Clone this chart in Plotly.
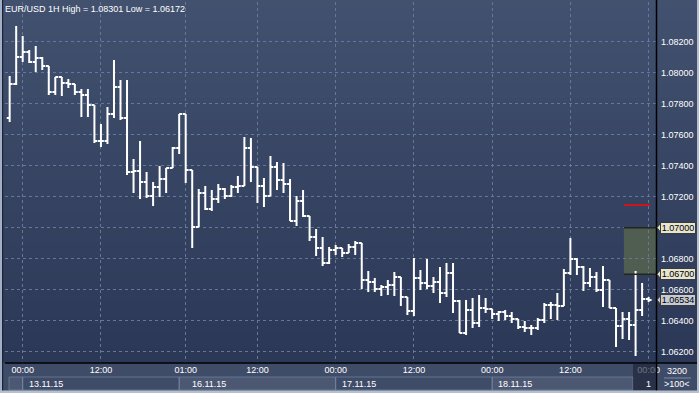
import plotly.graph_objects as go

# ---------------- data ----------------
bar_index = list(range(-2, 97))  # hourly bars, 0 = 13.11.15 00:00

open_ = [1.07708, 1.07927, 1.08101, 1.08134, 1.08069, 1.08095, 1.08043, 1.07876, 1.07972, 1.07934,
         1.07927, 1.07876, 1.07856, 1.07792, 1.07559, 1.07559, 1.07734, 1.07908, 1.07708, 1.07359,
         1.07366, 1.07295, 1.07205, 1.07263, 1.07314, 1.07385, 1.07514, 1.07734, 1.07372, 1.07005,
         1.07224, 1.07121, 1.07185, 1.07250, 1.07205, 1.07263, 1.07269, 1.07514, 1.07392, 1.07269,
         1.07205, 1.07392, 1.07308, 1.07282, 1.07043, 1.07172, 1.07076, 1.06940, 1.06869, 1.06772,
         1.06856, 1.06869, 1.06837, 1.06876, 1.06901, 1.06663, 1.06650, 1.06605, 1.06617, 1.06630,
         1.06682, 1.06553, 1.06463, 1.06675, 1.06643, 1.06624, 1.06650, 1.06579, 1.06708, 1.06527,
         1.06321, 1.06469, 1.06385, 1.06482, 1.06476, 1.06443, 1.06456, 1.06430, 1.06411, 1.06359,
         1.06353, 1.06353, 1.06405, 1.06501, 1.06501, 1.06495, 1.06708, 1.06798, 1.06746, 1.06643,
         1.06682, 1.06598, 1.06663, 1.06482, 1.06366, 1.06411, 1.06372, 1.06469, 1.06540]

high = [1.07979, 1.08301, 1.08237, 1.08146, 1.08172, 1.08101, 1.08043, 1.07972, 1.07972, 1.07959,
        1.07927, 1.07895, 1.07895, 1.07792, 1.07669, 1.07779, 1.08082, 1.07953, 1.07953, 1.07443,
        1.07559, 1.07359, 1.07295, 1.07398, 1.07385, 1.07521, 1.07734, 1.07734, 1.07372, 1.07250,
        1.07269, 1.07243, 1.07282, 1.07256, 1.07276, 1.07334, 1.07585, 1.07579, 1.07392, 1.07321,
        1.07463, 1.07424, 1.07417, 1.07314, 1.07205, 1.07243, 1.07076, 1.06992, 1.06940, 1.06876,
        1.06888, 1.06869, 1.06895, 1.06914, 1.06901, 1.06721, 1.06675, 1.06630, 1.06663, 1.06714,
        1.06682, 1.06553, 1.06805, 1.06727, 1.06798, 1.06682, 1.06746, 1.06772, 1.06772, 1.06534,
        1.06534, 1.06546, 1.06566, 1.06546, 1.06476, 1.06463, 1.06469, 1.06456, 1.06411, 1.06398,
        1.06372, 1.06417, 1.06514, 1.06521, 1.06579, 1.06734, 1.06934, 1.06805, 1.06753, 1.06740,
        1.06714, 1.06753, 1.06663, 1.06482, 1.06456, 1.06456, 1.06721, 1.06643, 1.06553]

low = [1.07682, 1.07921, 1.08069, 1.08063, 1.08005, 1.08017, 1.07856, 1.07856, 1.07850, 1.07901,
       1.07856, 1.07714, 1.07714, 1.07546, 1.07521, 1.07540, 1.07708, 1.07695, 1.07340, 1.07224,
       1.07185, 1.07192, 1.07140, 1.07198, 1.07224, 1.07385, 1.07475, 1.07288, 1.06869, 1.07005,
       1.07114, 1.07108, 1.07159, 1.07185, 1.07198, 1.07224, 1.07269, 1.07295, 1.07159, 1.07134,
       1.07205, 1.07243, 1.07224, 1.07043, 1.07011, 1.07069, 1.06914, 1.06817, 1.06753, 1.06766,
       1.06824, 1.06811, 1.06837, 1.06824, 1.06605, 1.06585, 1.06585, 1.06559, 1.06566, 1.06559,
       1.06495, 1.06437, 1.06430, 1.06598, 1.06605, 1.06579, 1.06514, 1.06553, 1.06450, 1.06321,
       1.06308, 1.06353, 1.06359, 1.06450, 1.06411, 1.06398, 1.06405, 1.06385, 1.06347, 1.06327,
       1.06308, 1.06340, 1.06385, 1.06411, 1.06405, 1.06495, 1.06695, 1.06695, 1.06592, 1.06617,
       1.06585, 1.06488, 1.06482, 1.06230, 1.06282, 1.06276, 1.06172, 1.06430, 1.06521]

close = [1.07927, 1.08101, 1.08134, 1.08069, 1.08095, 1.08043, 1.07876, 1.07972, 1.07934, 1.07927,
         1.07876, 1.07856, 1.07792, 1.07559, 1.07559, 1.07734, 1.07908, 1.07708, 1.07359, 1.07366,
         1.07295, 1.07205, 1.07263, 1.07314, 1.07385, 1.07514, 1.07734, 1.07372, 1.07005, 1.07224,
         1.07121, 1.07185, 1.07250, 1.07205, 1.07263, 1.07269, 1.07514, 1.07392, 1.07269, 1.07205,
         1.07392, 1.07308, 1.07282, 1.07043, 1.07172, 1.07076, 1.06940, 1.06869, 1.06772, 1.06856,
         1.06869, 1.06837, 1.06876, 1.06901, 1.06663, 1.06650, 1.06605, 1.06617, 1.06630, 1.06682,
         1.06553, 1.06463, 1.06675, 1.06643, 1.06624, 1.06650, 1.06579, 1.06708, 1.06527, 1.06321,
         1.06469, 1.06385, 1.06482, 1.06476, 1.06443, 1.06456, 1.06430, 1.06411, 1.06359, 1.06353,
         1.06353, 1.06405, 1.06501, 1.06501, 1.06495, 1.06708, 1.06798, 1.06746, 1.06643, 1.06682,
         1.06598, 1.06663, 1.06482, 1.06366, 1.06411, 1.06372, 1.06469, 1.06540, 1.06534]

title_text = "EUR/USD 1H High = 1.08301 Low = 1.06172"
time_tick_index = [0, 12, 25, 36, 48, 60, 72, 84, 96]
time_tick_text = ["00:00", "12:00", "01:00", "12:00", "00:00", "12:00", "00:00", "12:00", "00:00"]
price_ticks = [1.062, 1.064, 1.066, 1.068, 1.070, 1.072, 1.074, 1.076, 1.078, 1.080, 1.082]
date_labels = ["13.11.15", "16.11.15", "17.11.15", "18.11.15"]
date_box_start = [0, 24, 48, 72]
date_label_index = [0, 25, 48, 72]
zone_high = 1.07000
zone_low = 1.06700
zone_start_index = 92.2
red_level = 1.07146
red_start_index, red_end_index = 92.2, 96.2
last_price = 1.06534
counter_text = "3200"
zoom_text = ">100<"

# ---------------- geometry / style ----------------
W, H = 699, 393
L, R, T, B = 5, 656, 2, 363
X_RANGE = [-2.715, 97.13]
Y_RANGE = [1.06127, 1.08456]
FONT = "Liberation Sans"


def fx(px):
    return (px - L) / (R - L)


def fy(py):
    return (B - py) / (B - T)


def ix(i):
    return (i - X_RANGE[0]) / (X_RANGE[1] - X_RANGE[0])


def pix_of_index(i):
    return L + ix(i) * (R - L)


shapes = []
# background gradient
n_bands = 48
top_c = (65, 81, 110)
bot_c = (43, 56, 87)
for k in range(n_bands):
    y0 = B * k / n_bands
    y1 = B * (k + 1) / n_bands + 0.5
    t = k / (n_bands - 1)
    c = tuple(round(top_c[j] + (bot_c[j] - top_c[j]) * t) for j in range(3))
    shapes.append(dict(type="rect", xref="paper", yref="paper", x0=fx(0), x1=fx(W),
                       y0=fy(y1), y1=fy(y0), line=dict(width=0),
                       fillcolor="rgb(%d,%d,%d)" % c, layer="below"))

# x-axis area
shapes.append(dict(type="rect", xref="paper", yref="paper", x0=fx(0), x1=fx(W),
                   y0=fy(H), y1=fy(B), line=dict(width=0), fillcolor="#3f4c68", layer="below"))

# date boxes
box_fills = ["rgba(255,255,255,0.0)", "rgba(255,255,255,0.07)",
             "rgba(255,255,255,0.0)", "rgba(255,255,255,0.07)"]
box_edges = [pix_of_index(s) for s in date_box_start] + [633]
shapes.append(dict(type="rect", xref="paper", yref="paper", x0=fx(9), x1=fx(box_edges[0]),
                   y0=fy(390), y1=fy(377), line=dict(width=1, color="rgba(130,145,175,0.55)"),
                   fillcolor="rgba(255,255,255,0.07)", layer="below"))
for k in range(len(date_labels)):
    shapes.append(dict(type="rect", xref="paper", yref="paper", x0=fx(box_edges[k]), x1=fx(box_edges[k + 1]),
                       y0=fy(390), y1=fy(377), line=dict(width=1, color="rgba(130,145,175,0.55)"),
                       fillcolor=box_fills[k], layer="below"))

# signal zone (green box) and red level
shapes.append(dict(type="rect", xref="x", yref="y", x0=zone_start_index, x1=X_RANGE[1],
                   y0=zone_low, y1=zone_high, line=dict(width=0),
                   fillcolor="rgba(82,96,80,0.92)", layer="below"))
for lvl in (zone_high, zone_low):
    shapes.append(dict(type="line", xref="x", yref="y", x0=zone_start_index, x1=X_RANGE[1],
                       y0=lvl, y1=lvl, line=dict(width=1.5, color="#20261f"), layer="above"))
shapes.append(dict(type="line", xref="x", yref="y", x0=red_start_index, x1=red_end_index,
                   y0=red_level, y1=red_level, line=dict(width=2, color="#d0141c"), layer="above"))

# frame lines
shapes.append(dict(type="line", xref="paper", yref="paper", x0=fx(L), x1=fx(W), y0=fy(B), y1=fy(B),
                   line=dict(width=1.5, color="#000000"), layer="above"))
shapes.append(dict(type="line", xref="paper", yref="paper", x0=fx(R + 0.5), x1=fx(R + 0.5), y0=fy(H), y1=fy(0),
                   line=dict(width=1.5, color="#000000"), layer="above"))
# scroll thumb overlay at right end of time axis
shapes.append(dict(type="rect", xref="paper", yref="paper", x0=fx(633), x1=fx(R), y0=fy(390), y1=fy(364),
                   line=dict(width=0), fillcolor="rgba(28,36,56,0.65)", layer="above"))
# counter box separator
shapes.append(dict(type="line", xref="paper", yref="paper", x0=fx(664), x1=fx(691), y0=fy(378), y1=fy(378),
                   line=dict(width=1, color="#7d8aa3"), layer="above"))
# outer borders
shapes.append(dict(type="rect", xref="paper", yref="paper", x0=fx(0), x1=fx(2), y0=fy(H), y1=fy(0),
                   line=dict(width=0), fillcolor="#a3afc4", layer="above"))
shapes.append(dict(type="rect", xref="paper", yref="paper", x0=fx(2), x1=fx(3.2), y0=fy(H), y1=fy(0),
                   line=dict(width=0), fillcolor="#1b2337", layer="above"))
shapes.append(dict(type="rect", xref="paper", yref="paper", x0=fx(0), x1=fx(W), y0=fy(H), y1=fy(390.5),
                   line=dict(width=0), fillcolor="#b6bfcd", layer="above"))
shapes.append(dict(type="rect", xref="paper", yref="paper", x0=fx(697), x1=fx(W), y0=fy(H), y1=fy(0),
                   line=dict(width=0), fillcolor="#b6bfcd", layer="above"))

annotations = []
annotations.append(dict(text=title_text, xref="paper", yref="paper", x=fx(3), y=fy(2),
                        xanchor="left", yanchor="top", showarrow=False,
                        font=dict(family=FONT, size=9, color="#ffffff")))
for k, lab in enumerate(date_labels):
    annotations.append(dict(text=lab, xref="paper", yref="paper",
                            x=fx(pix_of_index(date_label_index[k]) + 4), y=fy(384),
                            xanchor="left", yanchor="middle", showarrow=False,
                            font=dict(family=FONT, size=9, color="#ffffff")))
annotations.append(dict(text="1", xref="paper", yref="paper", x=fx(653), y=fy(384),
                        xanchor="right", yanchor="middle", showarrow=False,
                        font=dict(family=FONT, size=9, color="#ffffff")))
annotations.append(dict(text=counter_text, xref="paper", yref="paper", x=fx(677), y=fy(371),
                        xanchor="center", yanchor="middle", showarrow=False,
                        font=dict(family=FONT, size=9, color="#ffffff")))
annotations.append(dict(text=zoom_text, xref="paper", yref="paper", x=fx(677), y=fy(384),
                        xanchor="center", yanchor="middle", showarrow=False,
                        font=dict(family=FONT, size=9, color="#ffffff")))

# price flags on the right axis
flags = [(zone_high, "#e6e6d0"), (zone_low, "#e6e6d0"), (last_price, "#c6cad6")]
for val, fill in flags:
    annotations.append(dict(text="%.5f" % val, xref="paper", yref="y", x=fx(678), y=val,
                            xanchor="center", yanchor="middle", showarrow=False,
                            width=34, height=10, borderpad=0, bgcolor=fill,
                            bordercolor="#3a3a3a", borderwidth=1,
                            font=dict(family=FONT, size=9, color="#000000")))
    half = 5.5 * (Y_RANGE[1] - Y_RANGE[0]) / (B - T)
    shapes.append(dict(type="path", xref="paper", yref="y",
                       path="M %f %f L %f %f L %f %f Z" % (fx(657), val, fx(661.5), val + half, fx(661.5), val - half),
                       fillcolor=fill, line=dict(width=1, color="#3a3a3a"), layer="above"))

fig = go.Figure()
fig.add_trace(go.Ohlc(
    x=bar_index, open=open_, high=high, low=low, close=close,
    increasing=dict(line=dict(color="#ffffff", width=2)),
    decreasing=dict(line=dict(color="#ffffff", width=2)),
    tickwidth=0.45, hoverinfo="skip", showlegend=False,
))

ytext = ["" if abs(v - zone_high) < 1e-9 else "%.5f" % v for v in price_ticks]

fig.update_layout(
    width=W, height=H,
    margin=dict(l=L, r=W - R, t=T, b=H - B, pad=0),
    paper_bgcolor="#3a4763",
    plot_bgcolor="rgba(0,0,0,0)",
    showlegend=False,
    shapes=shapes,
    annotations=annotations,
    xaxis=dict(range=X_RANGE, rangeslider=dict(visible=False), showgrid=True,
               gridcolor="#66779a", griddash="dot", gridwidth=1, zeroline=False,
               tickvals=time_tick_index, ticktext=time_tick_text, ticks="",
               tickfont=dict(family=FONT, size=9, color="#ffffff"), showline=False, fixedrange=True),
    yaxis=dict(range=Y_RANGE, side="right", showgrid=True, gridcolor="#66779a",
               griddash="dot", gridwidth=1, zeroline=False, tickvals=price_ticks, ticktext=ytext,
               ticks="", ticklabelstandoff=4,
               tickfont=dict(family=FONT, size=9, color="#ffffff"), showline=False, fixedrange=True),
)

fig.write_html("out.html")
